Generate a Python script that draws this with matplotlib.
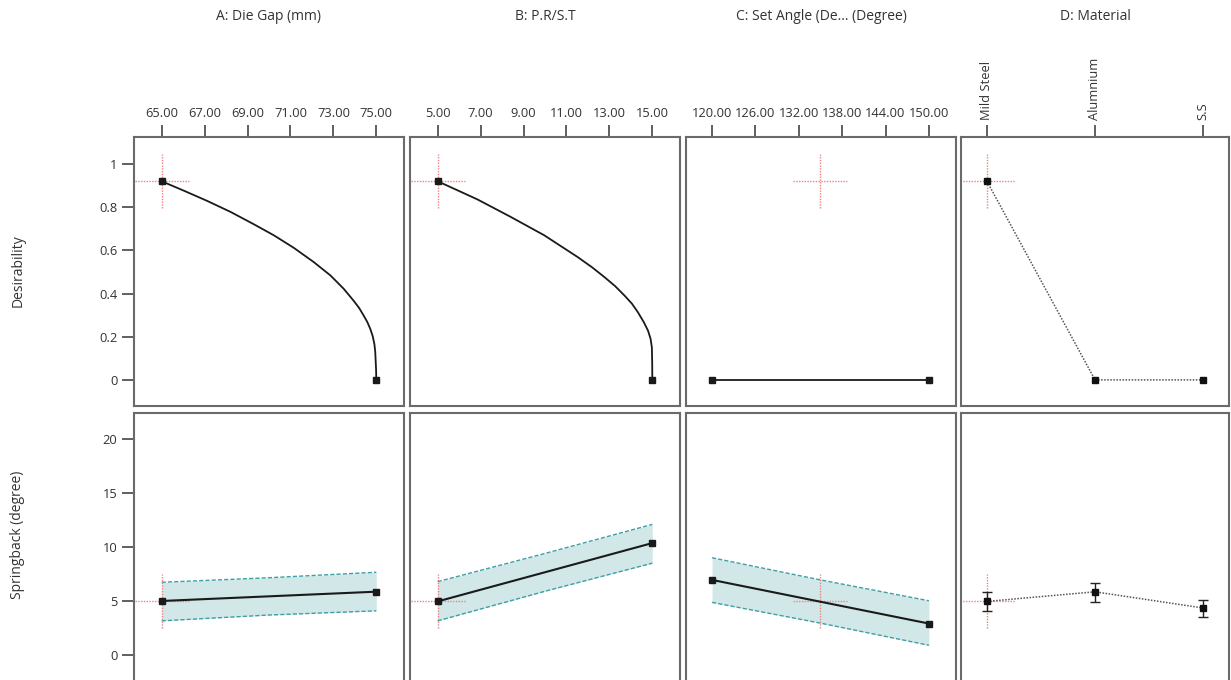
import numpy as np
import matplotlib
matplotlib.use("Agg")
import matplotlib.pyplot as plt

plt.rcParams['font.family'] = ['Open Sans', 'DejaVu Sans']

# factor titles
titles = ["A: Die Gap (mm)", "B: P.R/S.T", "C: Set Angle (De... (Degree)", "D: Material"]

# axis ticks
a_ticks = [65, 67, 69, 71, 73, 75]
b_ticks = [5, 7, 9, 11, 13, 15]
c_ticks = [120, 126, 132, 138, 144, 150]
materials = ["Mild Steel", "Alumnium", "S.S"]
d_ticks = [0, 0.2, 0.4, 0.6, 0.8, 1]
s_ticks = [0, 5, 10, 15, 20]

# desirability traces
a_x = [65, 66.04, 67.12, 68.21, 69.29, 70.22, 71.15, 72.08, 72.86, 73.48, 73.94,
       74.2, 74.41, 74.58, 74.72, 74.83, 74.91, 74.95, 74.97, 74.99, 75]
a_d = [0.92, 0.876, 0.829, 0.778, 0.721, 0.670, 0.612, 0.546, 0.484, 0.422, 0.367,
       0.333, 0.298, 0.268, 0.236, 0.203, 0.166, 0.130, 0.088, 0.045, 0]
b_x = [5, 6.85, 8.40, 9.96, 11.52, 12.2, 12.77, 13.27, 13.70, 14.05, 14.33,
       14.6, 14.80, 14.92, 14.98, 14.995, 15]
b_d = [0.92, 0.836, 0.755, 0.670, 0.569, 0.521, 0.476, 0.434, 0.391, 0.353, 0.313,
       0.268, 0.228, 0.190, 0.150, 0.075, 0]
c_x = [120, 150]
c_d = [0, 0]
m_d = [0.92, 0, 0]

# springback predictions with confidence bands
a_sx = [65, 70, 75]
a_s = [5.0, 5.43, 5.86]
a_lo = [3.16, 3.7, 4.09]
a_hi = [6.73, 7.15, 7.66]
b_sx = [5, 10, 15]
b_s = [4.96, 7.66, 10.36]
b_lo = [3.16, 5.9, 8.50]
b_hi = [6.79, 9.4, 12.09]
c_sx = [120, 135, 150]
c_s = [6.95, 4.93, 2.91]
c_lo = [4.87, 2.95, 0.9]
c_hi = [9.0, 6.95, 5.02]
m_s = [4.96, 5.85, 4.35]
m_lo = [4.1, 4.95, 3.5]
m_hi = [5.8, 6.7, 5.1]

# current setting (red cross)
cur_x = [65, 5, 135, 0]
cur_d = 0.92
cur_s = 5.0

W, H = 1231, 680
fig = plt.figure(figsize=(W / 100, H / 100), dpi=100)

col_x = [134, 410, 686, 961]
col_w = [270, 270, 270, 268]
row_y = [(137, 406), (413, 682)]

xlims = [(63.71, 76.29), (3.71, 16.29), (116.4, 153.75), (-0.24, 2.24)]
ylims = [(-0.121, 1.125), (-2.5, 22.4)]

frame_c = '#6a6a6a'
text_c = '#333333'
band_fill = '#d2e8e8'
band_edge = '#3e9fa6'
red = '#f08080'


def make_ax(col, row):
    y0, y1 = row_y[row]
    rect = [col_x[col] / W, (H - y1) / H, col_w[col] / W, (y1 - y0) / H]
    ax = fig.add_axes(rect)
    ax.set_xlim(*xlims[col])
    ax.set_ylim(*ylims[row])
    for s in ax.spines.values():
        s.set_color(frame_c)
        s.set_linewidth(1.5)
    ax.tick_params(axis='both', colors='#444444', labelcolor=text_c, length=9,
                   width=1.2, direction='out', labelsize=9.3, pad=3)
    return ax


axes = [[make_ax(c, r) for c in range(4)] for r in range(2)]

tick_sets = [a_ticks, b_ticks, c_ticks]
for c in range(4):
    top = axes[0][c]
    top.xaxis.tick_top()
    if c < 3:
        top.set_xticks(tick_sets[c])
        top.set_xticklabels([f"{t:.2f}" for t in tick_sets[c]])
    else:
        top.set_xticks([0, 1, 2])
        top.set_xticklabels(materials, rotation=90)
    axes[1][c].set_xticks([])
    if c == 0:
        top.set_yticks(d_ticks)
        top.set_yticklabels(["0", "0.2", "0.4", "0.6", "0.8", "1"])
        axes[1][c].set_yticks(s_ticks)
    else:
        top.set_yticks([])
        axes[1][c].set_yticks([])

# red crosshairs at the current factor setting
for c in range(4):
    xl = xlims[c]
    hx = 0.1 * (xl[1] - xl[0])
    for r, yv in enumerate([cur_d, cur_s]):
        yl = ylims[r]
        hy = 0.1 * (yl[1] - yl[0])
        ax = axes[r][c]
        ax.plot([cur_x[c] - hx, cur_x[c] + hx], [yv, yv], color=red,
                lw=1, ls=(0, (1, 1)), zorder=2.5)
        ax.plot([cur_x[c], cur_x[c]], [yv - hy, yv + hy], color=red,
                lw=1, ls=(0, (1, 1)), zorder=2.5)

# desirability row
mk = dict(marker='s', markersize=4.5, markevery=[0, -1], color='#1a1a1a')
axes[0][0].plot(a_x, a_d, lw=1.3, zorder=3, **mk)
axes[0][1].plot(b_x, b_d, lw=1.3, zorder=3, **mk)
axes[0][2].plot(c_x, c_d, lw=1.3, zorder=3, **mk)
axes[0][3].plot([0, 1, 2], m_d, color='#555555', lw=1.1, ls=(0, (1, 1)), zorder=3)
axes[0][3].plot([0, 1, 2], m_d, ls='none', marker='s', markersize=4.5,
                color='#111111', zorder=4)

# springback row
for ax, sx, s, lo, hi in [(axes[1][0], a_sx, a_s, a_lo, a_hi),
                          (axes[1][1], b_sx, b_s, b_lo, b_hi),
                          (axes[1][2], c_sx, c_s, c_lo, c_hi)]:
    ax.fill_between(sx, lo, hi, color=band_fill, lw=0, zorder=1)
    ax.plot(sx, lo, color=band_edge, lw=1, ls=(0, (3, 1.5)), zorder=2)
    ax.plot(sx, hi, color=band_edge, lw=1, ls=(0, (3, 1.5)), zorder=2)
    ax.plot([sx[0], sx[-1]], [s[0], s[-1]], lw=1.5, zorder=3, **mk)

m_err = [np.subtract(m_s, m_lo), np.subtract(m_hi, m_s)]
axes[1][3].plot([0, 1, 2], m_s, color='#555555', lw=1.1, ls=(0, (1, 1)), zorder=3)
axes[1][3].errorbar([0, 1, 2], m_s, yerr=m_err, fmt='s', markersize=4.5,
                    color='#111111', ecolor='#222222', elinewidth=1,
                    capsize=3.5, capthick=1, zorder=5)

# column titles and row labels
for c in range(4):
    fig.text((col_x[c] + col_w[c] / 2) / W, 1 - 17 / H, titles[c],
             ha='center', va='center', fontsize=10, color=text_c)
fig.text(18 / W, 1 - 271 / H, "Desirability", rotation=90,
         ha='center', va='center', fontsize=10, color=text_c)
fig.text(18 / W, 1 - 535 / H, "Springback (degree)", rotation=90,
         ha='center', va='center', fontsize=10, color=text_c)

fig.savefig("out.png", dpi=100)
